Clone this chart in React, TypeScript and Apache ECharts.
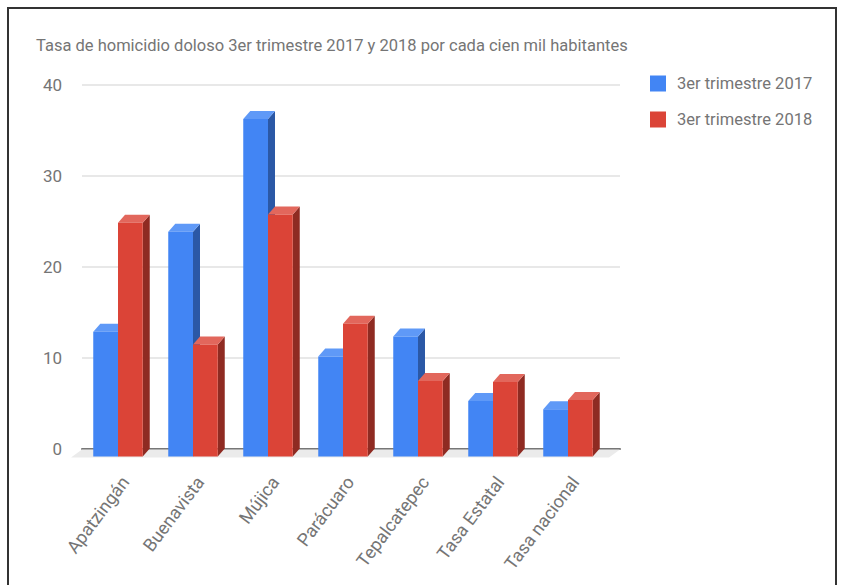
import React, { useEffect, useRef } from "react";
import * as echarts from "echarts";

const categories = ["Apatzingán", "Buenavista", "Mújica", "Parácuaro", "Tepalcatepec", "Tasa Estatal", "Tasa nacional"];
const values2017 = [13.7, 24.7, 37.1, 11.0, 13.2, 6.1, 5.2];
const values2018 = [25.7, 12.3, 26.6, 14.6, 8.3, 8.2, 6.2];
const seriesNames = ["3er trimestre 2017", "3er trimestre 2018"];
const yTicks = { min: 0, max: 40, interval: 10 };

const DX = 7;
const DY = 8;
const FONT = "Roboto, 'Noto Sans', sans-serif";

const palettes = [
  { front: "#4285f4", top: "#5f99f7", side: "#2b58a6" },
  { front: "#db4437", top: "#e2675c", side: "#8f2b22" },
];

function barRenderer(idx: number) {
  return (params: any, api: any) => {
    const cat = api.value(0);
    const val = api.value(1);
    const top = api.coord([cat, val]);
    const base = api.coord([cat, 0]);
    const band = api.size([1, 0])[0];
    const w = band * 0.33;
    const cx = top[0] - DX;
    const xl = idx === 0 ? cx - w : cx;
    const xr = xl + w;
    const yT = top[1] + DY;
    const yB = base[1] + DY;
    const p = palettes[idx];
    return {
      type: "group",
      children: [
        {
          type: "polygon",
          shape: { points: [[xr, yT], [xr + DX, yT - DY], [xr + DX, yB - DY], [xr, yB]] },
          style: { fill: p.side },
        },
        {
          type: "polygon",
          shape: { points: [[xl, yT], [xl + DX, yT - DY], [xr + DX, yT - DY], [xr, yT]] },
          style: { fill: p.top },
        },
        {
          type: "rect",
          shape: { x: xl, y: yT, width: w, height: yB - yT },
          style: { fill: p.front },
        },
      ],
    };
  };
}

export default function App() {
  const ref = useRef<HTMLDivElement>(null);
  useEffect(() => {
    if (!ref.current) return;
    const chart = echarts.init(ref.current, undefined, { renderer: "svg" });
    const gridTop = 84.5;
    const gridHeight = 364;
    chart.setOption({
      animation: false,
      backgroundColor: "#ffffff",
      title: {
        text: "Tasa de homicidio doloso 3er trimestre 2017 y 2018 por cada cien mil habitantes",
        left: 36,
        top: 37,
        padding: 0,
        textStyle: { color: "#757575", fontWeight: "normal", fontSize: 16.5, fontFamily: FONT },
      },
      legend: {
        orient: "vertical",
        left: 650,
        top: 75,
        padding: 0,
        itemWidth: 16,
        itemHeight: 16,
        itemGap: 19,
        icon: "rect",
        data: seriesNames,
        textStyle: { color: "#757575", fontSize: 16.5, fontFamily: FONT, padding: [0, 0, 0, 6] },
      },
      grid: [
        { left: 82, width: 538, top: gridTop, height: gridHeight },
        { left: 87.5, width: 525, top: gridTop, height: gridHeight },
      ],
      xAxis: [
        {
          gridIndex: 0,
          type: "value",
          min: 0,
          max: 1,
          axisLine: { show: true, lineStyle: { color: "#777777", width: 2 } },
          axisTick: { show: false },
          axisLabel: { show: false },
          splitLine: { show: false },
        },
        {
          gridIndex: 1,
          type: "category",
          data: categories,
          axisLine: { show: false },
          axisTick: { show: false },
          axisLabel: {
            rotate: 53,
            margin: 30,
            color: "#757575",
            fontSize: 18,
            fontFamily: FONT,
            interval: 0,
          },
        },
      ],
      yAxis: [
        {
          gridIndex: 0,
          type: "value",
          min: yTicks.min,
          max: yTicks.max,
          interval: yTicks.interval,
          axisLine: { show: false },
          axisTick: { show: false },
          axisLabel: { color: "#757575", fontSize: 17, fontFamily: FONT, margin: 20 },
          splitLine: { lineStyle: { color: "#e0e0e0", width: 1.5 } },
        },
        {
          gridIndex: 1,
          type: "value",
          min: yTicks.min,
          max: yTicks.max,
          interval: yTicks.interval,
          show: false,
          splitLine: { show: false },
        },
      ],
      series: [
        {
          type: "custom",
          xAxisIndex: 0,
          yAxisIndex: 0,
          z: 1,
          silent: true,
          data: [[0, 0]],
          renderItem: (params: any, api: any) => {
            const a = api.coord([0, 0]);
            const b = api.coord([1, 0]);
            return {
              type: "polygon",
              shape: {
                points: [
                  [a[0], a[1] + 1],
                  [b[0], b[1] + 1],
                  [b[0] - 11, b[1] + 9],
                  [a[0] - 11, a[1] + 9],
                ],
              },
              style: { fill: "#ebebeb" },
            };
          },
        },
        {
          name: seriesNames[0],
          type: "custom",
          xAxisIndex: 1,
          yAxisIndex: 1,
          z: 3,
          itemStyle: { color: palettes[0].front },
          data: values2017.map((v, i) => [i, v]),
          renderItem: barRenderer(0),
        },
        {
          name: seriesNames[1],
          type: "custom",
          xAxisIndex: 1,
          yAxisIndex: 1,
          z: 4,
          itemStyle: { color: palettes[1].front },
          data: values2018.map((v, i) => [i, v]),
          renderItem: barRenderer(1),
        },
      ],
    });
    return () => chart.dispose();
  }, []);
  return (
    <div style={{ position: "fixed", left: 0, top: 0, width: 845, height: 585, overflow: "hidden", background: "#fff" }}>
      <div ref={ref} style={{ position: "absolute", left: 0, top: 0, width: 845, height: 585 }} />
      <div
        style={{
          position: "absolute",
          left: 7,
          top: 7,
          width: 830,
          height: 620,
          border: "2px solid #333333",
          pointerEvents: "none",
          boxSizing: "border-box",
        }}
      />
    </div>
  );
}
